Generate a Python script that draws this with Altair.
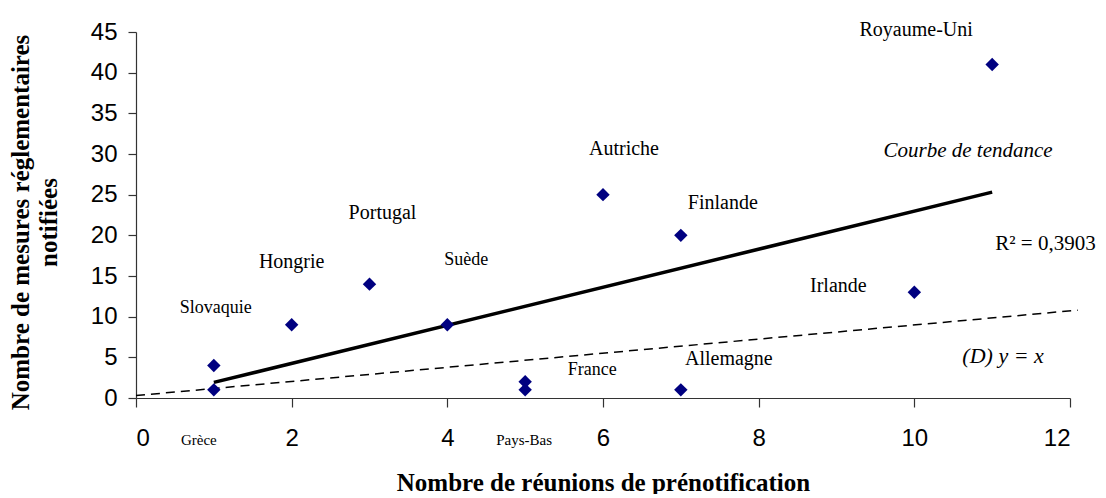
import altair as alt
import pandas as pd

# ---- data ----
pays = ["Grèce", "Slovaquie", "Hongrie", "Portugal", "Suède", "Pays-Bas",
        "France", "Autriche", "Finlande", "Allemagne", "Irlande", "Royaume-Uni"]
reunions = [1, 1, 2, 3, 4, 5, 5, 6, 7, 7, 10, 11]
mesures = [1, 4, 9, 14, 9, 1, 2, 25, 20, 1, 13, 41]

x_ticks = [0, 2, 4, 6, 8, 10, 12]
y_ticks = [0, 5, 10, 15, 20, 25, 30, 35, 40, 45]

# reference line (D) as drawn
d_x = [0, 12.1]
d_y = [0.3, 10.8]

# label styling: (dx, dy, fontSize) in pixels, per country
label_style = {
    "Grèce": (-15, 55, 15),
    "Slovaquie": (2, -52, 18),
    "Hongrie": (0, -57, 20),
    "Portugal": (13, -65, 20),
    "Suède": (19, -60, 18),
    "Pays-Bas": (-1, 55, 15),
    "France": (67, -7, 18),
    "Autriche": (21, -40, 20),
    "Finlande": (42, -26, 20),
    "Allemagne": (48, -25, 20),
    "Irlande": (-76, 0, 20),
    "Royaume-Uni": (-76, -29, 20),
}

pts = pd.DataFrame({"pays": pays, "reunions": reunions, "mesures": mesures})
dline = pd.DataFrame({"reunions": d_x, "mesures": d_y})

X = alt.X("reunions:Q", scale=alt.Scale(domain=[0, 12], nice=False),
          axis=alt.Axis(values=x_ticks, title="Nombre de réunions de prénotification",
                        labelFontSize=24, labelPadding=19, tickSize=9,
                        titleFontSize=25,
                        titleY=92, titleBaseline="alphabetic"))
Y = alt.Y("mesures:Q", scale=alt.Scale(domain=[0, 45], nice=False),
          axis=alt.Axis(values=y_ticks, title=["Nombre de mesures réglementaires", "notifiées"],
                        labelFontSize=24, labelPadding=11, tickSize=8,
                        titleFontSize=25,
                        titleX=-116, titleY=190, titleAngle=270,
                        titleBaseline="middle", titleAlign="center",
                        titleLineHeight=28))

dashed = alt.Chart(dline).mark_line(color="black", strokeWidth=1.5, strokeDash=[9, 6]).encode(x=X, y=Y)

trend = (alt.Chart(pts)
         .transform_regression("reunions", "mesures")
         .mark_line(color="black", strokeWidth=3.5)
         .encode(x=X, y=Y))

points = alt.Chart(pts).mark_point(shape="diamond", filled=True, size=180,
                                   color="#000080", opacity=1).encode(x=X, y=Y)

layers = [dashed, trend, points]
for name, (dx, dy, fs) in label_style.items():
    layers.append(
        alt.Chart(pts).transform_filter(alt.datum.pays == name)
        .mark_text(dx=dx, dy=dy, fontSize=fs, align="center", baseline="alphabetic",
                   font="Liberation Serif", color="black")
        .encode(x=X, y=Y, text="pays:N")
    )

# free annotations
ann_text = ["Courbe de tendance", "R² = 0,3903", "(D) y = x"]
ann_x = [10.69, 11.04, 11.14]
ann_y = [29.6, 18.2, 4.3]
ann_style = [("center", "italic", 21), ("left", "normal", 21), ("center", "italic", 22)]
ann = pd.DataFrame({"txt": ann_text, "reunions": ann_x, "mesures": ann_y})
for t, (al, st, fs) in zip(ann_text, ann_style):
    layers.append(
        alt.Chart(ann).transform_filter(alt.datum.txt == t)
        .mark_text(align=al, baseline="alphabetic", fontStyle=st, fontSize=fs,
                   font="Liberation Serif", color="black")
        .encode(x=X, y=Y, text="txt:N")
    )

chart = (alt.layer(*layers)
         .properties(width=934, height=366,
                     autosize=alt.AutoSizeParams(type="none"),
                     padding={"left": 128, "top": 24, "right": 26, "bottom": 96})
         .configure_view(stroke=None)
         .configure_axis(grid=False, domainColor="#333333", tickColor="#333333",
                         domainWidth=1.2, tickWidth=1.2,
                         labelFont="Liberation Sans", labelColor="black",
                         titleFont="Liberation Serif", titleFontWeight="bold",
                         titleColor="black"))

chart.save("out.html", embed_options={"renderer": "svg", "actions": False})
